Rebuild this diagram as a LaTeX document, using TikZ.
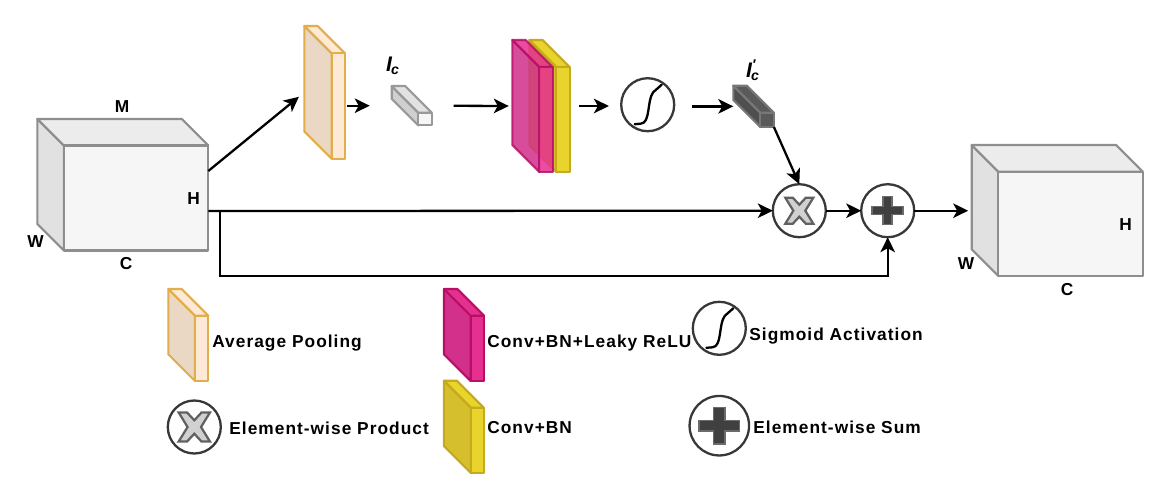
\documentclass[tikz,border=0pt]{standalone}
\usepackage{fontspec}
\setmainfont{Liberation Sans}[LetterSpace=6]
\usetikzlibrary{arrows.meta}

\definecolor{boxside}{HTML}{E1E1E1}
\definecolor{boxtop}{HTML}{ECECEC}
\definecolor{boxfront}{HTML}{F6F6F6}
\definecolor{boxline}{HTML}{8E8E8E}
\definecolor{poolside}{HTML}{EAD7C4}
\definecolor{pooltop}{HTML}{FDE9D6}
\definecolor{poolfront}{HTML}{FDE9D6}
\definecolor{poolline}{HTML}{E0AE4A}
\definecolor{pinkside}{HTML}{D2308A}
\definecolor{pinktop}{HTML}{E6308F}
\definecolor{pinkfront}{HTML}{E6308F}
\definecolor{pinkline}{HTML}{B80F66}
\definecolor{yellowside}{HTML}{D6BF2C}
\definecolor{yellowtop}{HTML}{E9D42E}
\definecolor{yellowfront}{HTML}{E9D42E}
\definecolor{yellowline}{HTML}{C4AA1C}
\definecolor{lightside}{HTML}{CFCFCF}
\definecolor{lighttop}{HTML}{E2E2E2}
\definecolor{lightfront}{HTML}{F6F6F6}
\definecolor{lightline}{HTML}{999999}
\definecolor{darkside}{HTML}{4F4F4F}
\definecolor{darktop}{HTML}{5A5A5A}
\definecolor{darkfront}{HTML}{5A5A5A}
\definecolor{darkline}{HTML}{777777}

\tikzset{
  >={Stealth[length=0.3cm,width=0.29cm,inset=0.08cm]},
  flow/.style={->,line width=0.046cm,black},
  blockbox/.style={rectangle,inner sep=0pt,outer sep=0pt,anchor=north west},
  opnode/.style={draw=black!78,circle,line width=0.046cm,inner sep=0pt,outer sep=0pt,minimum size=1.06cm},
  oplegend/.style={opnode,minimum size=#1},
  caption/.style={font=\bfseries\fontsize{9.85pt}{11pt}\selectfont,anchor=west,inner sep=0pt},
  dimtext/.style={font=\bfseries\fontsize{9.85pt}{11pt}\selectfont,inner sep=0pt},
  sizetext/.style={font=\bfseries\itshape\fontsize{12pt}{14pt}\selectfont,inner sep=0pt},
  sigcurve/.style={line width=0.046cm,black,line cap=round},
  timesmark/.style={draw=black!62,fill=black!18,line width=0.045cm,line join=miter},
  plusmark/.style={draw=black!58,fill=black!75,line width=0.03cm},
}

% name, back left x, back top y, front width, front height, depth, colour
\newcommand{\cuboid}[8][]{%
  \node (#2) [blockbox,minimum width={(#5+#7)*0.02cm},minimum height={(#6+#7)*0.02cm}] at (#3,#4) {};
  \begin{scope}[#1,line width=0.042cm,draw=#8line,line join=round]
    \draw[fill=#8side] (#3,#4) -- ++(#7,#7) -- ++(0,#6) -- ++(-#7,-#7) -- cycle;
    \draw[fill=#8top] (#3,#4) -- ++(#5,0) -- ++(#7,#7) -- ++(-#5,0) -- cycle;
    \draw[fill=#8front] (#3,#4) ++(#7,#7) rectangle ++(#5,#6);
  \end{scope}
}
\newcommand{\sigmoidin}[1]{%
  \draw[sigcurve,shift={(#1.center)}] (-13,19.5) -- (-7,19) .. controls (3,18.5) and (-1,-4) .. (5.5,-12.5) -- (14,-20);
}
\newcommand{\timesin}[2]{%
  \draw[timesmark,shift={(#1.center)},scale=#2] (-14,-13) -- (-6.5,-13) -- (0,-6) -- (6.5,-13) -- (14,-13) -- (6,0)
    -- (14,13) -- (6.5,13) -- (0,6) -- (-6.5,13) -- (-14,13) -- (-6,0) -- cycle;
}
\newcommand{\plusin}[2]{%
  \draw[plusmark,shift={(#1.center)},scale=#2] (-4.5,-14) -- (4.5,-14) -- (4.5,-4) -- (15.5,-4) -- (15.5,4) -- (4.5,4)
    -- (4.5,14) -- (-4.5,14) -- (-4.5,4) -- (-15.5,4) -- (-15.5,-4) -- (-4.5,-4) -- cycle;
}

\begin{document}
\begin{tikzpicture}[x=0.02cm,y=-0.02cm]
  \useasboundingbox (0,0) rectangle (1175,485);

  % main path
  \cuboid{input}{37.3}{119}{144.5}{105}{26.5}{box}
  \cuboid{pool}{304.3}{26}{13.4}{105.4}{27.3}{pool}
  \cuboid{ic}{391.7}{86}{13.4}{12.8}{26.6}{light}
  \cuboid{yellow}{529.3}{40}{13.3}{105}{27}{yellow}
  \cuboid[opacity=0.86]{pink}{512.3}{40}{13.4}{105}{27}{pink}
  \node (sig) [opnode] at (647.7,104.7) {};
  \sigmoidin{sig}
  \cuboid{icout}{733.3}{85.7}{13.6}{14.3}{27}{dark}
  \node (prod) [opnode] at (799.3,210.7) {};
  \timesin{prod}{1}
  \node (sum) [opnode] at (887.7,210.7) {};
  \plusin{sum}{1}
  \cuboid{output}{971.7}{145}{144.4}{104.3}{26.6}{box}

  % connectors
  \coordinate (tap) at (208.3,171);
  \coordinate (mid) at (208.3,211);
  \coordinate (branch) at (220,211);
  \draw[flow,shorten >=4] (tap) -- (pool.west);
  \draw[flow,shorten <=1,shorten >=12.5] (pool.east |- ic.west) -- (ic.west);
  \draw[flow,shorten <=12.5,shorten >=2] (ic.east) -- (pink.west);
  \draw[flow,shorten <=5.5,shorten >=7] (yellow.east) -- (sig.west |- yellow.east);
  \draw[flow,shorten <=10] (sig.east |- icout.west) -- (icout.west);
  \draw[flow] (icout.south east) -- (prod.north);
  \draw[flow] (mid) -- (prod.west);
  \draw[flow] (prod.east) -- (sum.west);
  \draw[flow,shorten >=2] (sum.east) -- (output.west |- sum.east);
  \draw[flow] (branch) |- ++(667.7,65) -- (sum.south);

  % sizes
  \node (inM) [dimtext] at (122,106.5) {M};
  \node (inW) [dimtext] at (35.5,241.5) {W};
  \node (inC) [dimtext] at (126,264) {C};
  \node (inH) [dimtext] at (193.5,198.5) {H};
  \node (outW) [dimtext] at (966,263.5) {W};
  \node (outC) [dimtext] at (1067,289.5) {C};
  \node (outH) [dimtext] at (1125.5,225) {H};
  \node (icname) [sizetext] at (393,66) {I\textsubscript{\kern-0.5pt c}};
  \node (icoutname) [sizetext] at (753,70.5) {I\rlap{\textsuperscript{′}}\textsubscript{\kern-0.5pt c}};

  % legend
  \cuboid{poolkey}{168.3}{289}{13.3}{65.3}{26.7}{pool}
  \node (poolcap) [caption] at (212,343.5) {Average Pooling};
  \cuboid{pinkkey}{444}{289}{13.3}{65.3}{26.7}{pink}
  \node (pinkcap) [caption] at (487,343.5) {Conv+BN+Leaky ReLU};
  \cuboid{yellowkey}{444}{380.7}{12.8}{65.4}{27}{yellow}
  \node (yellowcap) [caption] at (487,428) {Conv+BN};
  \node (sigkey) [opnode] at (719.3,328.3) {};
  \sigmoidin{sigkey}
  \node (sigcap) [caption] at (749,336.5) {Sigmoid Activation};
  \node (prodkey) [opnode] at (194.3,427) {};
  \timesin{prodkey}{1.12}
  \node (prodcap) [caption] at (229,428.5) {Element-wise Product};
  \node (sumkey) [oplegend=1.19cm] at (719.3,425.7) {};
  \plusin{sumkey}{1.3}
  \node (sumcap) [caption] at (753,427) {Element-wise Sum};
\end{tikzpicture}
\end{document}
